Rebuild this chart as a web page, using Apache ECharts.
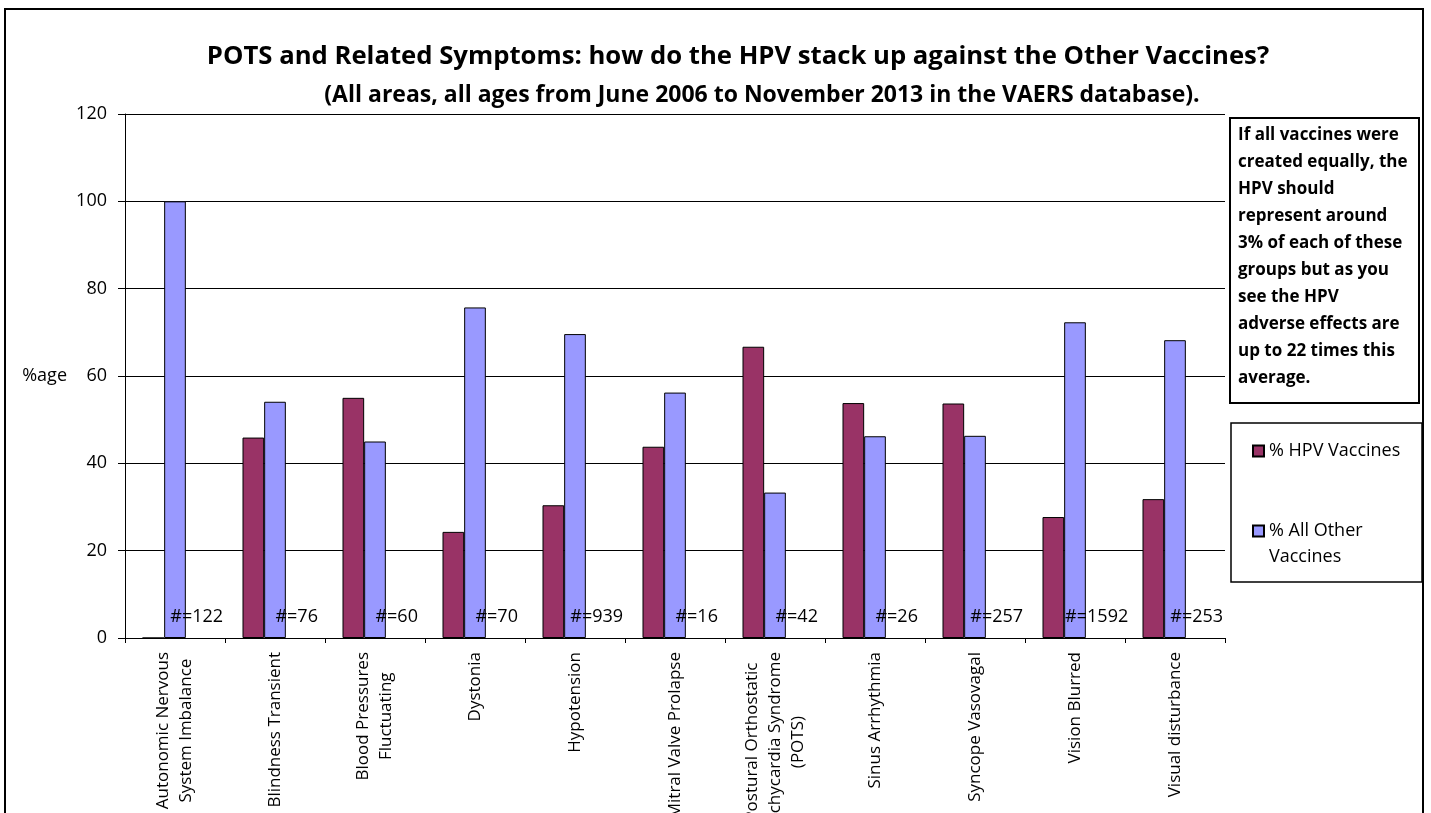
<!DOCTYPE html>
<html>
<head>
<meta charset="utf-8">
<title>POTS and Related Symptoms</title>
<script src="https://cdn.jsdelivr.net/npm/echarts@6/dist/echarts.min.js"></script>
<style>
  html, body { margin: 0; padding: 0; background: #fff; }
  #chart { width: 1431px; height: 813px; }
</style>
</head>
<body>
<div id="chart"></div>
<script>
// categories (x axis), line breaks as in the original labels
const categories = [
  'Autonomic Nervous\nSystem Imbalance',
  'Blindness Transient',
  'Blood Pressures\nFluctuating',
  'Dystonia',
  'Hypotension',
  'Mitral Valve Prolapse',
  'Postural Orthostatic\nTachycardia Syndrome\n(POTS)',
  'Sinus Arrhythmia',
  'Syncope Vasovagal',
  'Vision Blurred',
  'Visual disturbance'
]
const seriesNames = ['% HPV Vaccines', '% All Other Vaccines']
const hpvPct = [0, 45.9, 55.0, 24.3, 30.4, 43.8, 66.7, 53.8, 53.7, 27.7, 31.8]
const otherPct = [100, 54.1, 45.0, 75.7, 69.6, 56.2, 33.3, 46.2, 46.3, 72.3, 68.2]
const reportCounts = [122, 76, 60, 70, 939, 16, 42, 26, 257, 1592, 253]
const countBase = [0, 0, 0, 0, 0, 0, 0, 0, 0, 0, 0]

const titleText = 'POTS and Related Symptoms: how do the HPV stack up against the Other Vaccines?'
const subtitleText = '(All areas, all ages from June 2006 to November 2013 in the VAERS database).'
const noteLines = [
  'If all vaccines were',
  'created equally, the',
  'HPV should',
  'represent around',
  '3% of each of these',
  'groups but as you',
  'see the HPV',
  'adverse effects are',
  'up to 22 times this',
  'average.'
]

const FONT = 'Open Sans'
const chart = echarts.init(document.getElementById('chart'))

chart.setOption({
  backgroundColor: '#fff',
  animation: false,
  textStyle: { fontFamily: FONT, color: '#000' },
  grid: {
    left: 125,
    right: 206,
    top: 114,
    bottom: 175,
    outerBoundsMode: 'none'
  },
  legend: [
    {
      data: [seriesNames[0]],
      orient: 'vertical',
      left: 1252,
      top: 438,
      padding: 0,
      icon: 'rect',
      itemWidth: 11,
      itemHeight: 11,
      selectedMode: false,
      textStyle: { fontFamily: FONT, fontSize: 18, color: '#000', lineHeight: 26 }
    },
    {
      data: [seriesNames[1]],
      orient: 'vertical',
      left: 1252,
      top: 492,
      padding: 0,
      icon: 'rect',
      itemWidth: 11,
      itemHeight: 11,
      selectedMode: false,
      formatter: function () {
        return '{a|}\n{a|% All Other}\n{a|Vaccines}'
      },
      textStyle: {
        fontFamily: FONT,
        fontSize: 18,
        color: '#000',
        lineHeight: 26,
        rich: { a: { fontFamily: FONT, fontSize: 18, color: '#000', lineHeight: 26 } }
      }
    }
  ],
  xAxis: {
    type: 'category',
    data: categories,
    axisLine: { lineStyle: { color: '#000', width: 1 } },
    axisTick: { show: true, length: 5, lineStyle: { color: '#000' } },
    axisLabel: {
      interval: 0,
      rotate: 90,
      margin: 14,
      formatter: function (val) {
        return val.split('\n').map(function (s) { return '{c|' + s + '}' }).join('\n')
      },
      rich: {
        c: { align: 'center', fontFamily: FONT, fontSize: 17, lineHeight: 23, color: '#000' }
      }
    }
  },
  yAxis: {
    type: 'value',
    min: 0,
    max: 120,
    interval: 20,
    name: '%age',
    nameLocation: 'middle',
    nameRotate: 0,
    nameGap: 58,
    nameTextStyle: { fontFamily: FONT, fontSize: 18, color: '#000' },
    axisLine: { show: true, lineStyle: { color: '#000', width: 1 } },
    axisTick: { show: true, length: 7, lineStyle: { color: '#000' } },
    axisLabel: { margin: 18, fontFamily: FONT, fontSize: 18, color: '#000' },
    splitLine: { show: true, lineStyle: { color: '#000', width: 1 } }
  },
  series: [
    {
      name: seriesNames[0],
      type: 'bar',
      data: hpvPct,
      barGap: '0%',
      barCategoryGap: '35%',
      itemStyle: { color: '#993366', borderColor: '#000', borderWidth: 1 }
    },
    {
      name: seriesNames[1],
      type: 'bar',
      data: otherPct,
      barGap: '0%',
      barCategoryGap: '35%',
      itemStyle: { color: '#9999ff', borderColor: '#000', borderWidth: 1 }
    },
    {
      // hidden series carrying the "#=n" report counts
      name: 'count',
      type: 'bar',
      data: countBase,
      barGap: '0%',
      barCategoryGap: '35%',
      itemStyle: { color: 'rgba(0,0,0,0)' },
      label: {
        show: true,
        position: 'top',
        distance: 12,
        fontFamily: FONT,
        fontSize: 18,
        color: '#000',
        formatter: function (p) {
          return '#=' + reportCounts[p.dataIndex]
        }
      }
    }
  ],
  graphic: [
    {
      type: 'rect',
      shape: { x: 5, y: 9, width: 1418, height: 840 },
      style: { fill: 'none', stroke: '#000', lineWidth: 2 },
      silent: true
    },
    {
      type: 'text',
      x: 738,
      y: 57,
      style: {
        text: titleText,
        font: 'bold 25.7px "Open Sans"',
        fill: '#000',
        align: 'center',
        verticalAlign: 'middle'
      }
    },
    {
      type: 'text',
      x: 762,
      y: 95,
      style: {
        text: subtitleText,
        font: 'bold 23px "Open Sans"',
        fill: '#000',
        align: 'center',
        verticalAlign: 'middle'
      }
    },
    {
      type: 'rect',
      shape: { x: 1230, y: 118, width: 189, height: 285 },
      style: { fill: '#fff', stroke: '#000', lineWidth: 2 }
    },
    {
      type: 'text',
      x: 1238,
      y: 122,
      style: {
        text: noteLines.join('\n'),
        font: 'bold 17px "Open Sans"',
        lineHeight: 27,
        fill: '#000',
        align: 'left',
        verticalAlign: 'top'
      }
    },
    {
      type: 'rect',
      shape: { x: 1231, y: 423, width: 191, height: 159 },
      style: { fill: 'none', stroke: '#000', lineWidth: 1.5 }
    }
  ]
})
</script>
</body>
</html>
